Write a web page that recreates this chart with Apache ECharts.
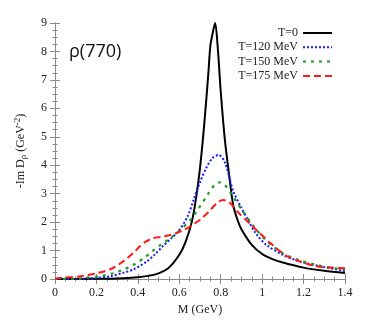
<!DOCTYPE html>
<html>
<head>
<meta charset="utf-8">
<script src="https://cdn.jsdelivr.net/npm/echarts@6/dist/echarts.min.js"></script>
<style>
  html, body { margin: 0; padding: 0; background: #fff; }
  #chart { width: 374px; height: 332px; }
</style>
</head>
<body>
<div id="chart"></div>
<script>
// values (M in GeV, -Im D in GeV^-2)
var massT0 = [0, 0.1, 0.2, 0.3, 0.4, 0.45, 0.5, 0.55, 0.6, 0.63, 0.66, 0.68, 0.7, 0.72, 0.74, 0.75, 0.76, 0.773, 0.785, 0.8, 0.82, 0.84, 0.86, 0.88, 0.9, 0.95, 1.0, 1.05, 1.1, 1.2, 1.3, 1.4];
var valT0  = [0, 0.0, 0.01, 0.02, 0.06, 0.11, 0.2, 0.4, 0.85, 1.3, 2.0, 2.8, 3.9, 5.4, 7.2, 8.2, 8.6, 9.0, 8.2, 6.6, 4.9, 3.7, 2.6, 2.1, 1.75, 1.2, 0.88, 0.7, 0.58, 0.4, 0.29, 0.21];

var massT120 = [0, 0.1, 0.14, 0.2, 0.27, 0.33, 0.38, 0.44, 0.48, 0.52, 0.56, 0.6, 0.64, 0.67, 0.7, 0.73, 0.76, 0.79, 0.82, 0.86, 0.9, 0.93, 0.97, 1.02, 1.1, 1.18, 1.3, 1.4];
var valT120  = [0, 0.0, 0.01, 0.04, 0.1, 0.22, 0.34, 0.6, 0.85, 1.15, 1.42, 1.72, 2.2, 2.8, 3.4, 3.9, 4.25, 4.36, 4.1, 3.1, 2.5, 2.1, 1.6, 1.2, 0.85, 0.62, 0.42, 0.28];

var massT150 = [0, 0.1, 0.15, 0.22, 0.28, 0.33, 0.38, 0.43, 0.47, 0.51, 0.56, 0.6, 0.65, 0.7, 0.74, 0.77, 0.795, 0.82, 0.86, 0.9, 0.96, 1.02, 1.1, 1.18, 1.26, 1.33, 1.4];
var valT150  = [0, 0.01, 0.05, 0.1, 0.2, 0.33, 0.5, 0.74, 0.98, 1.2, 1.45, 1.7, 2.05, 2.55, 3.0, 3.3, 3.4, 3.3, 2.9, 2.45, 1.85, 1.35, 0.9, 0.66, 0.5, 0.4, 0.33];

var massT175 = [0, 0.06, 0.1, 0.14, 0.2, 0.27, 0.31, 0.35, 0.38, 0.41, 0.44, 0.475, 0.51, 0.54, 0.58, 0.62, 0.66, 0.7, 0.74, 0.78, 0.81, 0.84, 0.89, 0.94, 0.99, 1.05, 1.12, 1.19, 1.26, 1.33, 1.4];
var valT175  = [0.02, 0.06, 0.07, 0.12, 0.2, 0.35, 0.52, 0.74, 0.93, 1.15, 1.32, 1.44, 1.48, 1.52, 1.6, 1.72, 1.88, 2.08, 2.35, 2.65, 2.78, 2.7, 2.3, 1.95, 1.6, 1.2, 0.8, 0.6, 0.45, 0.4, 0.38];

var seriesNames = ['T=0', 'T=120 MeV', 'T=150 MeV', 'T=175 MeV'];
var xTicks = [0, 0.2, 0.4, 0.6, 0.8, 1, 1.2, 1.4];
var yTicks = [0, 1, 2, 3, 4, 5, 6, 7, 8, 9];

function pairs(xs, ys) {
  var out = [];
  for (var i = 0; i < xs.length; i++) out.push([xs[i], ys[i]]);
  return out;
}

var chart = echarts.init(document.getElementById('chart'));
var serif = 'Liberation Serif';
var frameColor = '#8a8a8a';

var baseAxis = {
  axisLine: { show: true, lineStyle: { color: frameColor, width: 1 } },
  axisTick: { show: true, inside: true, length: 5, lineStyle: { color: frameColor } },
  minorTick: { show: true, splitNumber: 4, length: 2.5, lineStyle: { color: frameColor } },
  splitLine: { show: false }
};

chart.setOption({
  animation: false,
  backgroundColor: '#fff',
  grid: { left: 55, right: 29, top: 23, bottom: 53 },
  legend: {
    right: 41, top: 27, padding: 0, orient: 'vertical', align: 'right',
    itemWidth: 29, itemHeight: 10, itemGap: 2.3,
    itemStyle: { opacity: 0 },
    textStyle: { fontFamily: serif, fontSize: 12, color: '#222' },
    data: seriesNames
  },
  title: {
    text: 'ρ(770)', left: 64, top: 38,
    textStyle: { fontFamily: 'Open Sans', fontSize: 18, fontWeight: 'normal', color: '#111' }
  },
  xAxis: [
    Object.assign({}, baseAxis, {
      type: 'value', min: 0, max: 1.4, interval: 0.2,
      name: 'M (GeV)', nameLocation: 'middle', nameGap: 22,
      nameTextStyle: { fontFamily: serif, fontSize: 12, color: '#222' },
      axisLabel: {
        fontFamily: serif, fontSize: 12, color: '#222', margin: 8,
        formatter: function (v) { return xTicks.indexOf(+v.toFixed(1)) >= 0 ? String(+v.toFixed(1)) : ''; }
      }
    }),
    Object.assign({}, baseAxis, {
      type: 'value', min: 0, max: 1.4, interval: 0.2, position: 'top',
      axisLabel: { show: false }
    })
  ],
  yAxis: [
    Object.assign({}, baseAxis, {
      type: 'value', min: 0, max: 9, interval: 1,
      name: '{t|-Im D}{s|ρ}{t| (GeV}{p|-2}{t|)}', nameLocation: 'middle', nameGap: 27,
      nameTextStyle: {
        rich: {
          t: { fontFamily: serif, fontSize: 12, color: '#222' },
          s: { fontFamily: serif, fontSize: 9, color: '#222', verticalAlign: 'bottom', padding: [6, 0, 0, 0] },
          p: { fontFamily: serif, fontSize: 9, color: '#222', verticalAlign: 'top', padding: [0, 0, 6, 0] }
        }
      },
      axisLabel: {
        fontFamily: serif, fontSize: 12, color: '#222', margin: 8,
        formatter: function (v) { return yTicks.indexOf(v) >= 0 ? String(v) : ''; }
      }
    }),
    Object.assign({}, baseAxis, {
      type: 'value', min: 0, max: 9, interval: 1, position: 'right',
      axisLabel: { show: false }
    })
  ],
  series: [
    {
      name: seriesNames[0], type: 'line', smooth: 0.3, symbol: 'none',
      data: pairs(massT0, valT0),
      lineStyle: { color: '#000', width: 2, type: 'solid' },
      itemStyle: { color: '#000' }
    },
    {
      name: seriesNames[1], type: 'line', smooth: 0.3, symbol: 'none',
      data: pairs(massT120, valT120),
      lineStyle: { color: '#1a1aff', width: 2, type: [2, 2] },
      itemStyle: { color: '#1a1aff' }
    },
    {
      name: seriesNames[2], type: 'line', smooth: 0.3, symbol: 'none',
      data: pairs(massT150, valT150),
      lineStyle: { color: '#1e9a1e', width: 2.2, type: [3, 5] },
      itemStyle: { color: '#1e9a1e' }
    },
    {
      name: seriesNames[3], type: 'line', smooth: 0.3, symbol: 'none',
      data: pairs(massT175, valT175),
      lineStyle: { color: '#ff1a1a', width: 2, type: [7, 4] },
      itemStyle: { color: '#ff1a1a' }
    }
  ]
});
</script>
</body>
</html>
